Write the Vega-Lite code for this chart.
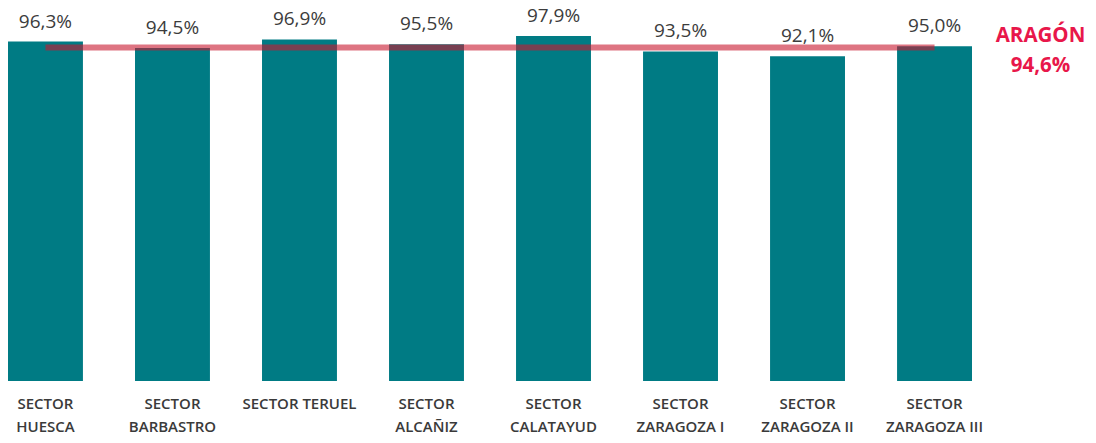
{
  "$schema": "https://vega.github.io/schema/vega-lite/v6.json",
  "width": 964,
  "height": 352.5,
  "autosize": {"type": "none"},
  "padding": {"left": 8, "top": 28.5, "right": 124, "bottom": 62},
  "background": "white",
  "config": {
    "view": {"stroke": null},
    "font": "Open Sans",
    "locale": {"number": {"decimal": ",", "thousands": ".", "grouping": [3], "currency": ["", " €"]}}
  },
  "datasets": {
    "sectors": [
      {"sector": "SECTOR|HUESCA", "value": 0.963},
      {"sector": "SECTOR|BARBASTRO", "value": 0.945},
      {"sector": "SECTOR TERUEL", "value": 0.969},
      {"sector": "SECTOR|ALCAÑIZ", "value": 0.955},
      {"sector": "SECTOR|CALATAYUD", "value": 0.979},
      {"sector": "SECTOR|ZARAGOZA I", "value": 0.935},
      {"sector": "SECTOR|ZARAGOZA II", "value": 0.921},
      {"sector": "SECTOR|ZARAGOZA III", "value": 0.950}
    ],
    "aragon": [
      {"first": "SECTOR|HUESCA", "last": "SECTOR|ZARAGOZA III", "label": "ARAGÓN", "value": 0.946}
    ]
  },
  "layer": [
    {
      "data": {"name": "sectors"},
      "mark": {"type": "bar", "color": "#007b84"},
      "encoding": {
        "x": {
          "field": "sector", "type": "nominal",
          "scale": {
            "domain": ["SECTOR|HUESCA", "SECTOR|BARBASTRO", "SECTOR TERUEL", "SECTOR|ALCAÑIZ", "SECTOR|CALATAYUD", "SECTOR|ZARAGOZA I", "SECTOR|ZARAGOZA II", "SECTOR|ZARAGOZA III"],
            "paddingInner": 0.41, "paddingOuter": 0
          },
          "axis": {
            "title": null, "domain": false, "ticks": false, "labelAngle": 0,
            "labelExpr": "split(datum.value, '|')",
            "labelFont": "Open Sans", "labelFontWeight": 600, "labelFontSize": 15,
            "labelColor": "#3a3a3a", "labelPadding": 15, "labelLineHeight": 23,
            "labelLimit": 200
          }
        },
        "y": {
          "field": "value", "type": "quantitative",
          "scale": {"domain": [0, 1], "nice": false},
          "axis": null
        }
      }
    },
    {
      "data": {"name": "sectors"},
      "mark": {"type": "text", "baseline": "alphabetic", "dy": -14, "fontSize": 19, "color": "#3c3c3c", "font": "Open Sans"},
      "encoding": {
        "x": {"field": "sector", "type": "nominal"},
        "y": {"field": "value", "type": "quantitative"},
        "text": {"field": "value", "type": "quantitative", "format": ".1%"}
      }
    },
    {
      "data": {"name": "aragon"},
      "mark": {"type": "rule", "color": "#c8182f", "opacity": 0.6, "strokeWidth": 6},
      "encoding": {
        "x": {"field": "first", "type": "nominal"},
        "x2": {"field": "last"},
        "y": {"field": "value", "type": "quantitative"}
      }
    },
    {
      "data": {"name": "aragon"},
      "mark": {"type": "text", "dx": 106, "dy": -12, "fontSize": 20.5, "fontWeight": "bold", "color": "#e8174a", "font": "Open Sans", "align": "center", "baseline": "middle"},
      "encoding": {
        "x": {"field": "last", "type": "nominal"},
        "y": {"field": "value", "type": "quantitative"},
        "text": {"field": "label"}
      }
    },
    {
      "data": {"name": "aragon"},
      "mark": {"type": "text", "dx": 106, "dy": 18, "fontSize": 20.5, "fontWeight": "bold", "color": "#e8174a", "font": "Open Sans", "align": "center", "baseline": "middle"},
      "encoding": {
        "x": {"field": "last", "type": "nominal"},
        "y": {"field": "value", "type": "quantitative"},
        "text": {"field": "value", "type": "quantitative", "format": ".1%"}
      }
    }
  ]
}
